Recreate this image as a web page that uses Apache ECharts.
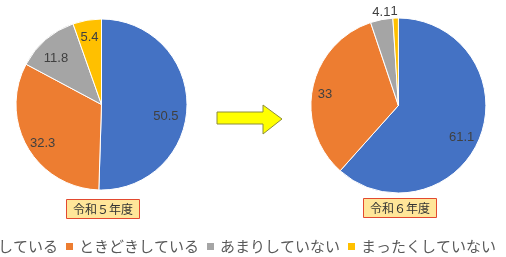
<!DOCTYPE html>
<html>
<head>
<meta charset="utf-8">
<script src="https://cdn.jsdelivr.net/npm/echarts@6/dist/echarts.min.js"></script>
<style>
  html, body { margin: 0; padding: 0; background: #fff; }
  #chart { width: 506px; height: 257px; }
</style>
</head>
<body>
<div id="chart"></div>
<script>
// 回答区分
const categories = ['よくしている', 'ときどきしている', 'あまりしていない', 'まったくしていない'];
// 令和5年度 / 令和6年度 (%)
const r5Values = [50.5, 32.3, 11.8, 5.4];
const r6Values = [61.1, 33, 4.1, 1];
const yearLabels = ['令和５年度', '令和６年度'];
const colors = ['#4472C4', '#ED7D31', '#A5A5A5', '#FFC000'];

const chart = echarts.init(document.getElementById('chart'));

function toData(values) {
  return categories.map((name, i) => ({ name: name, value: values[i] }));
}

// 色付きの円
function basePie(values, center, r) {
  return {
    type: 'pie',
    center: center,
    radius: [0, r],
    startAngle: 90,
    clockwise: true,
    silent: true,
    label: { show: false },
    labelLine: { show: false },
    itemStyle: { borderColor: '#fff', borderWidth: 1 },
    emphasis: { disabled: true },
    data: toData(values)
  };
}

// ラベル用の透明な円 (ラベルを半径の8割あたりに置くため)
function labelPie(values, center, r, nudge) {
  return {
    type: 'pie',
    center: center,
    radius: [r * 0.6, r],
    startAngle: 90,
    clockwise: true,
    silent: true,
    legendHoverLink: false,
    itemStyle: { color: 'rgba(0,0,0,0)', borderWidth: 0 },
    emphasis: { disabled: true },
    label: {
      show: true,
      position: 'inside',
      formatter: '{c}',
      color: '#404040',
      fontSize: 13,
      fontFamily: 'Liberation Sans'
    },
    labelLine: { show: false },
    labelLayout: function (p) {
      return nudge[p.dataIndex] || {};
    },
    data: toData(values)
  };
}

const boxStyle = {
  padding: [4, 7],
  borderWidth: 1,
  borderColor: '#E2492F',
  backgroundColor: '#FFE699',
  textStyle: {
    color: '#333',
    fontSize: 12,
    fontWeight: 'normal',
    fontFamily: 'Noto Sans CJK JP'
  }
};

chart.setOption({
  animation: false,
  color: colors,
  title: [
    Object.assign({ text: yearLabels[0], left: 66, top: 199 }, boxStyle),
    Object.assign({ text: yearLabels[1], left: 363, top: 198 }, boxStyle)
  ],
  legend: {
    left: -52,
    top: 234,
    width: 700,
    icon: 'rect',
    itemWidth: 9,
    itemHeight: 9,
    itemGap: 6,
    selectedMode: false,
    textStyle: {
      color: '#595959',
      fontSize: 15,
      fontFamily: 'Noto Sans CJK JP'
    },
    data: categories.map((name, i) => ({ name: name, itemStyle: { color: colors[i] } }))
  },
  graphic: [
    {
      type: 'polygon',
      shape: {
        points: [[217, 112], [263, 112], [263, 105], [282, 119], [263, 134], [263, 124], [217, 124]]
      },
      style: { fill: '#FFFF00', stroke: '#8C8C3C', lineWidth: 1 }
    }
  ],
  series: [
    basePie(r5Values, [101.5, 104.5], 85.5),
    basePie(r6Values, [398.4, 105.5], 87.5),
    labelPie(r5Values, [101.5, 104.5], 85.5,
      [{ dx: -7, dy: 11 }, { dx: 3, dy: 3 }, { dx: 1, dy: 8 }, { dx: 0, dy: 3 }]),
    labelPie(r6Values, [398.4, 105.5], 87.5,
      // 小さい2つは円の上に出す
      [{ dx: -5, dy: 6 }, { dx: -2, dy: 4 }, { dx: -3, dy: -21 }, { dx: -2, dy: -21 }])
  ]
});
</script>
</body>
</html>
